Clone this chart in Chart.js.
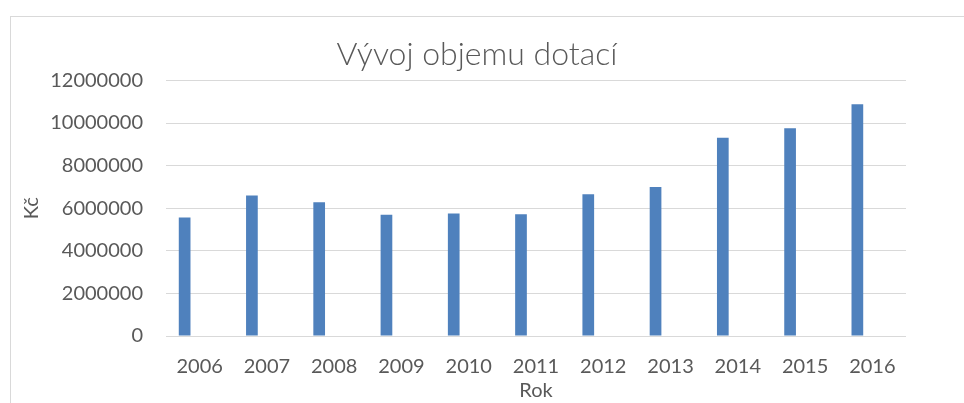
<!DOCTYPE html>
<html lang="cs">
<head>
<meta charset="utf-8">
<title>Vývoj objemu dotací</title>
<script src="https://cdn.jsdelivr.net/npm/chart.js"></script>
<style>
  html, body { margin: 0; padding: 0; background: #fff; overflow: hidden; }
  #wrap { position: relative; width: 964px; height: 403px; }
  #frame {
    position: absolute; left: 10px; top: 16px; width: 1000px; height: 500px;
    border: 1px solid #d9d9d9; box-sizing: border-box;
  }
  #chart { position: absolute; left: 0; top: 0; }
</style>
</head>
<body>
<div id="wrap">
  <div id="frame"></div>
  <canvas id="chart" width="964" height="403"></canvas>
</div>
<script>
// Data
const years = ['2006', '2007', '2008', '2009', '2010', '2011', '2012', '2013', '2014', '2015', '2016'];
const dotace = [5560000, 6600000, 6280000, 5690000, 5750000, 5720000, 6660000, 7000000, 9310000, 9750000, 10880000];
// the "Rok" column was plotted as a second series too (it only takes up room next to each bar)
const rokValues = [2006, 2007, 2008, 2009, 2010, 2011, 2012, 2013, 2014, 2015, 2016];
const yTicks = [0, 2000000, 4000000, 6000000, 8000000, 10000000, 12000000];

Chart.defaults.font.family = 'Lato, "Open Sans", "Liberation Sans", sans-serif';
Chart.defaults.color = '#595959';

const ctx = document.getElementById('chart');

new Chart(ctx, {
  type: 'bar',
  data: {
    labels: years,
    datasets: [
      {
        label: 'Kč',
        data: dotace,
        backgroundColor: '#4f81bd',
        borderWidth: 0,
        categoryPercentage: 0.892,
        barPercentage: 0.39
      },
      {
        label: 'Rok',
        data: rokValues,
        backgroundColor: 'rgba(0, 0, 0, 0)',
        borderWidth: 0,
        categoryPercentage: 0.892,
        barPercentage: 0.39
      }
    ]
  },
  options: {
    responsive: false,
    animation: false,
    layout: { padding: { left: 0, right: 10, top: 0, bottom: 0 } },
    scales: {
      x: {
        grid: { display: false },
        border: { display: false },
        ticks: { font: { size: 20 }, padding: 11, maxRotation: 0, autoSkip: false },
        title: { display: true, text: 'Rok', font: { size: 20 }, padding: { top: 0, bottom: 0 } },
        afterFit: (scale) => { scale.height = 67; }
      },
      y: {
        min: 0,
        max: 12000000,
        grid: { color: '#d9d9d9', lineWidth: 1, drawTicks: false },
        border: { display: false },
        afterBuildTicks: (scale) => { scale.ticks = yTicks.map(v => ({ value: v })); },
        ticks: { font: { size: 20 }, padding: 23, callback: (v) => String(v) },
        title: { display: true, text: 'Kč', font: { size: 20 }, padding: { top: 20, bottom: 0 } },
        afterFit: (scale) => { scale.width = 166; }
      },
      // empty spacer on the right so the plot ends where the original one does
      spacer: {
        type: 'linear',
        position: 'right',
        display: true,
        grid: { display: false },
        border: { display: false },
        ticks: { display: false },
        afterFit: (scale) => { scale.width = 48; }
      }
    },
    plugins: {
      legend: { display: false },
      tooltip: { enabled: false },
      title: {
        display: true,
        text: 'Vývoj objemu dotací',
        color: '#595959',
        font: { size: 32, weight: 300 },
        padding: { top: 35, bottom: 7 }
      }
    }
  }
});
</script>
</body>
</html>
